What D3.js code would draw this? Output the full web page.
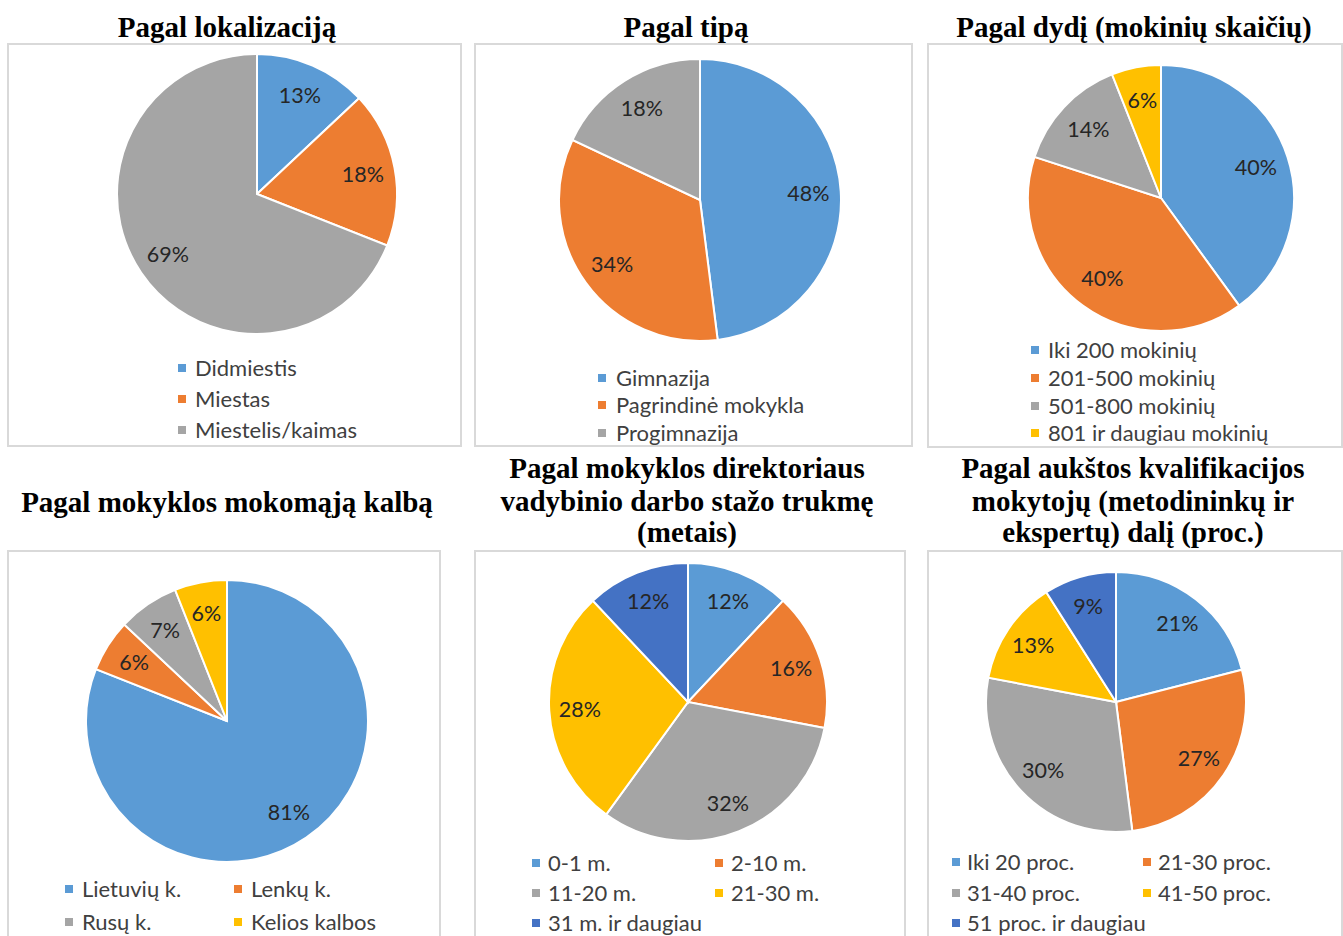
<!DOCTYPE html>
<html>
<head>
<meta charset="utf-8">
<script src="https://cdn.jsdelivr.net/npm/d3@7/dist/d3.min.js"></script>
<style>
  html, body { margin: 0; padding: 0; background: #fff; }
  svg { display: block; }
</style>
</head>
<body>
<svg id="chart" width="1343" height="936"></svg>
<script>
// ---------- DATA ----------
const titles = [
  ["Pagal lokalizaciją"],
  ["Pagal tipą"],
  ["Pagal dydį (mokinių skaičių)"],
  ["Pagal mokyklos mokomąją kalbą"],
  ["Pagal mokyklos direktoriaus", "vadybinio darbo stažo trukmę", "(metais)"],
  ["Pagal aukštos kvalifikacijos", "mokytojų (metodininkų ir", "ekspertų) dalį (proc.)"]
];
const locCategories = ["Didmiestis", "Miestas", "Miestelis/kaimas"];
const locValues = [13, 18, 69];
const typeCategories = ["Gimnazija", "Pagrindinė mokykla", "Progimnazija"];
const typeValues = [48, 34, 18];
const sizeCategories = ["Iki 200 mokinių", "201-500 mokinių", "501-800 mokinių", "801 ir daugiau mokinių"];
const sizeValues = [40, 40, 14, 6];
const langCategories = ["Lietuvių k.", "Lenkų k.", "Rusų k.", "Kelios kalbos"];
const langValues = [81, 6, 7, 6];
const tenureCategories = ["0-1 m.", "2-10 m.", "11-20 m.", "21-30 m.", "31 m. ir daugiau"];
const tenureValues = [12, 16, 32, 28, 12];
const qualCategories = ["Iki 20 proc.", "21-30 proc.", "31-40 proc.", "41-50 proc.", "51 proc. ir daugiau"];
const qualValues = [21, 27, 30, 13, 9];

const palette = ["#5B9BD5", "#ED7D31", "#A5A5A5", "#FFC000", "#4472C4"];

// ---------- LAYOUT ----------
const panels = [
  { cats: locCategories, vals: locValues, title: titles[0],
    box: [8, 44, 453, 402], cx: 257, cy: 194, r: 140, lr: 0.77,
    titleX: 227, titleY: [37],
    legend: { cols: [178], textDx: 17, rows: [368, 399, 430], ncol: 1 } },
  { cats: typeCategories, vals: typeValues, title: titles[1],
    box: [475, 44, 437, 402], cx: 700, cy: 200, r: 141, lr: 0.77,
    titleX: 686, titleY: [37],
    legend: { cols: [598], textDx: 18, rows: [378, 405, 433], ncol: 1 } },
  { cats: sizeCategories, vals: sizeValues, title: titles[2],
    box: [928, 44, 414, 403], cx: 1161, cy: 198, r: 133, lr: 0.75,
    titleX: 1134, titleY: [37],
    legend: { cols: [1031], textDx: 17, rows: [350, 378, 406, 433], ncol: 1 } },
  { cats: langCategories, vals: langValues, title: titles[3],
    box: [8, 551, 432, 420], cx: 227, cy: 721, r: 141, lr: 0.78,
    titleX: 227, titleY: [512],
    legend: { cols: [65, 234], textDx: 17, rows: [889, 922], ncol: 2 } },
  { cats: tenureCategories, vals: tenureValues, title: titles[4],
    box: [475, 551, 430, 420], cx: 688, cy: 702, r: 139, lr: 0.78,
    titleX: 687, titleY: [478, 511, 542],
    legend: { cols: [532, 715], textDx: 16, rows: [863, 893, 923], ncol: 2 } },
  { cats: qualCategories, vals: qualValues, title: titles[5],
    box: [928, 551, 414, 420], cx: 1116, cy: 702, r: 130, lr: 0.77,
    titleX: 1133, titleY: [478, 511, 542],
    legend: { cols: [952, 1143], textDx: 15, rows: [862, 893, 923], ncol: 2 } }
];

const svg = d3.select("#chart");
const labelFont = "Lato, 'Open Sans', sans-serif";

panels.forEach(p => {
  const g = svg.append("g");
  // box
  g.append("rect")
    .attr("x", p.box[0]).attr("y", p.box[1])
    .attr("width", p.box[2]).attr("height", p.box[3])
    .attr("fill", "#fff").attr("stroke", "#D9D9D9").attr("stroke-width", 2);

  // title
  p.title.forEach((line, i) => {
    g.append("text")
      .attr("x", p.titleX).attr("y", p.titleY[i])
      .attr("text-anchor", "middle")
      .attr("font-family", "'Liberation Serif', 'Times New Roman', serif")
      .attr("font-weight", "bold")
      .attr("font-size", 29)
      .attr("fill", "#000")
      .text(line);
  });

  const data = p.cats.map((c, i) => ({ cat: c, val: p.vals[i], idx: i }));
  const pie = d3.pie().value(d => d.val).sort(null).startAngle(0).endAngle(2 * Math.PI);
  const arcs = pie(data);
  const arc = d3.arc().innerRadius(0).outerRadius(p.r);
  const labelArc = d3.arc().innerRadius(p.r * p.lr).outerRadius(p.r * p.lr);
  const color = d3.scaleOrdinal().domain(p.cats).range(palette);

  const pg = g.append("g").attr("transform", `translate(${p.cx},${p.cy})`);
  pg.selectAll("path.slice").data(arcs).enter().append("path")
    .attr("class", "slice")
    .attr("d", arc)
    .attr("fill", d => color(d.data.cat))
    .attr("stroke", "#fff").attr("stroke-width", 2).attr("stroke-linejoin", "miter");

  pg.selectAll("text.lbl").data(arcs).enter().append("text")
    .attr("class", "lbl")
    .attr("transform", d => `translate(${labelArc.centroid(d)})`)
    .attr("text-anchor", "middle")
    .attr("dy", "0.36em")
    .attr("font-family", labelFont)
    .attr("font-size", 21.5)
    .attr("fill", "#262626")
    .text(d => d.data.val + "%");

  // legend
  const L = p.legend;
  const lg = g.append("g");
  data.forEach((d, i) => {
    const col = L.ncol === 1 ? 0 : i % L.ncol;
    const row = L.ncol === 1 ? i : Math.floor(i / L.ncol);
    const x = L.cols[col], y = L.rows[row];
    lg.append("rect")
      .attr("x", x).attr("y", y - 4)
      .attr("width", 8).attr("height", 8)
      .attr("fill", color(d.cat));
    lg.append("text")
      .attr("x", x + L.textDx).attr("y", y)
      .attr("dy", "0.36em")
      .attr("font-family", labelFont)
      .attr("font-size", 22)
      .attr("fill", "#404040")
      .text(d.cat);
  });
});
</script>
</body>
</html>
